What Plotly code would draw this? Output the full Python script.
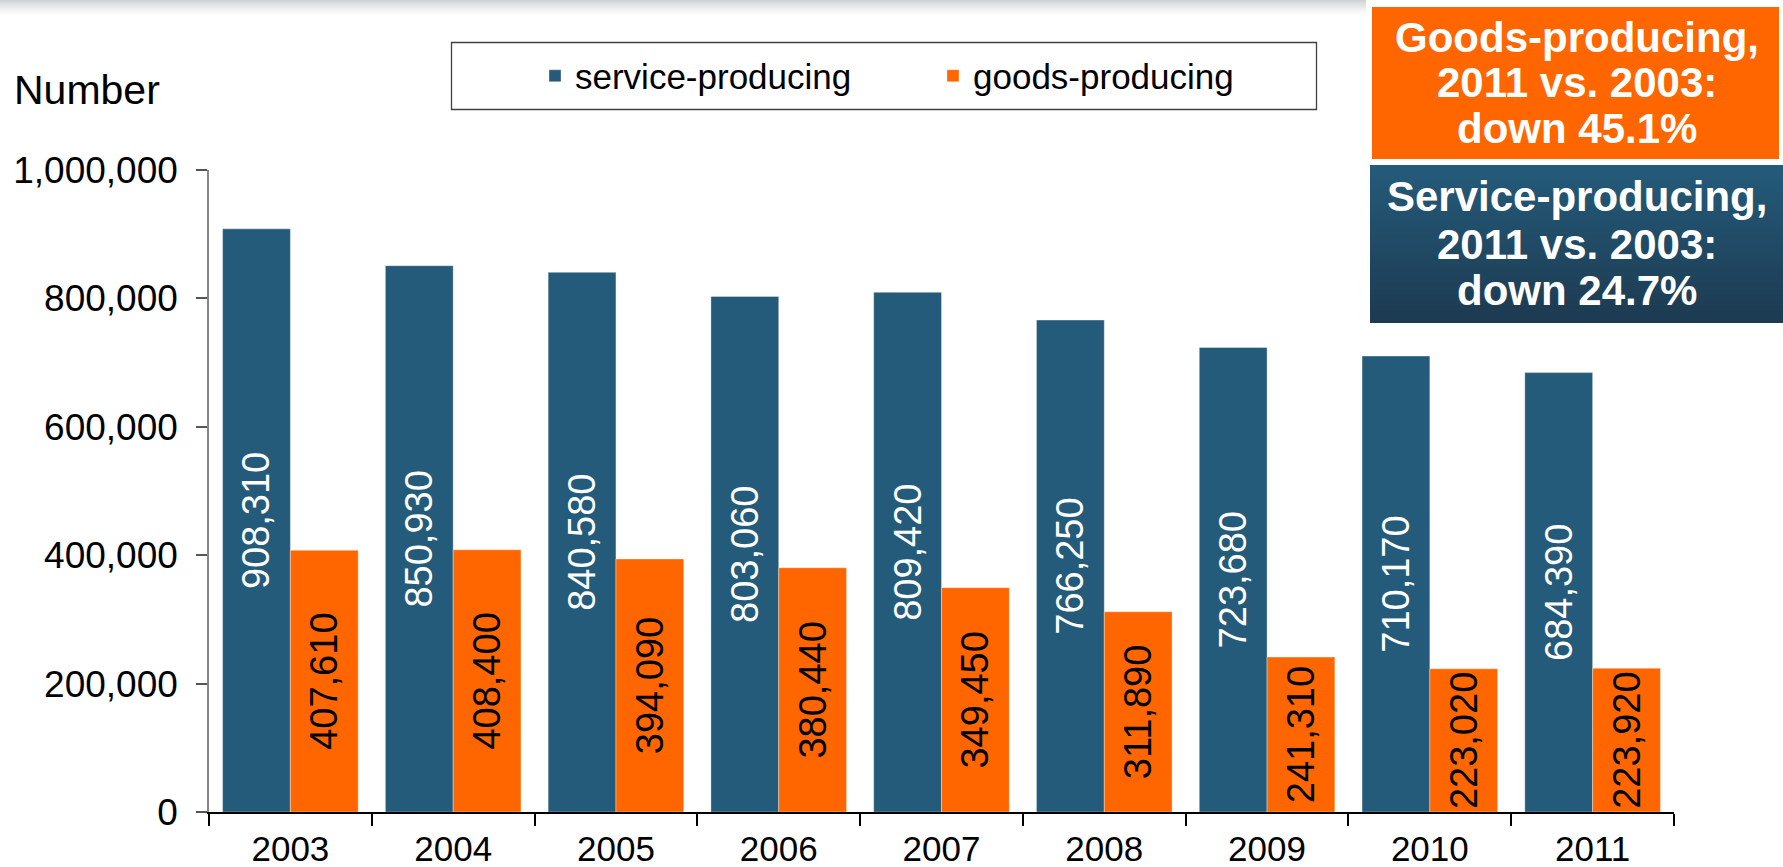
import plotly.graph_objects as go

# Data
years = ["2003", "2004", "2005", "2006", "2007", "2008", "2009", "2010", "2011"]
service_producing = [908310, 850930, 840580, 803060, 809420, 766250, 723680, 710170, 684390]
goods_producing = [407610, 408400, 394090, 380440, 349450, 311890, 241310, 223020, 223920]
y_ticks = [0, 200000, 400000, 600000, 800000, 1000000]

BLUE = "#245B7A"
ORANGE = "#FF6600"
FONT = "Arial, Liberation Sans, sans-serif"

W, H = 1783, 867
L, R, T, B = 209, 1674, 170, 812  # plot area in pixels


def fx(px):
    return (px - L) / (R - L)


def fy(py):
    return (B - py) / (B - T)


fig = go.Figure()
fig.add_trace(go.Bar(
    x=years, y=service_producing, name="service-producing",
    marker=dict(color=BLUE, line=dict(color="rgba(255,255,255,0.35)", width=1)),
    texttemplate="%{y:,}", textposition="inside", insidetextanchor="middle",
    textangle=-90, constraintext="none",
    textfont=dict(color="white", size=38, family=FONT),
    legend="legend", showlegend=True,
))
fig.add_trace(go.Bar(
    x=years, y=goods_producing, name="goods-producing",
    marker=dict(color=ORANGE, line=dict(color="rgba(255,255,255,0.35)", width=1)),
    texttemplate="%{y:,}", textposition="inside", insidetextanchor="middle",
    textangle=-90, constraintext="none",
    textfont=dict(color="black", size=38, family=FONT),
    legend="legend2", showlegend=True,
))

shapes = []
# soft grey band along the top edge
for i in range(17):
    a = 0.7 * (1 - i / 17) ** 1.6
    shapes.append(dict(type="rect", xref="paper", yref="paper",
                       x0=fx(0), x1=fx(W), y0=fy(i), y1=fy(i + 1),
                       fillcolor=f"rgba(185,192,192,{a:.3f})", line_width=0, layer="above"))
# white panel behind the callout boxes
shapes.append(dict(type="rect", xref="paper", yref="paper",
                   x0=fx(1366), x1=fx(W), y0=fy(0), y1=fy(330),
                   fillcolor="white", line_width=0, layer="above"))
# orange callout
shapes.append(dict(type="rect", xref="paper", yref="paper",
                   x0=fx(1372), x1=fx(1779), y0=fy(7), y1=fy(159),
                   fillcolor=ORANGE, line_width=0, layer="above"))
# blue callout with vertical gradient (each band runs to the bottom, later bands overdraw)
top_c = (36, 91, 122)
bot_c = (29, 58, 80)
y_top, y_bot = 165, 323
n = y_bot - y_top
for i in range(n):
    t = i / (n - 1)
    c = tuple(round(top_c[k] + (bot_c[k] - top_c[k]) * t) for k in range(3))
    shapes.append(dict(type="rect", xref="paper", yref="paper",
                       x0=fx(1370), x1=fx(W), y0=fy(y_top + i), y1=fy(y_bot),
                       fillcolor=f"rgb{c}", line_width=0, layer="above"))
# legend frame
shapes.append(dict(type="rect", xref="paper", yref="paper",
                   x0=fx(451.5), x1=fx(1316.5), y0=fy(42.5), y1=fy(109.5),
                   fillcolor="rgba(0,0,0,0)", line=dict(color="#404040", width=1.3),
                   layer="above"))

annotations = [
    dict(text="Number", x=fx(12), y=fy(90), xref="paper", yref="paper",
         xanchor="left", yanchor="middle", showarrow=False,
         font=dict(size=41, color="black", family=FONT)),
]
callout_lines = [
    ("Goods-producing,", 37), ("2011 vs. 2003:", 83), ("down 45.1%", 128),
    ("Service-producing,", 197), ("2011 vs. 2003:", 244), ("down 24.7%", 290),
]
for txt, yc in callout_lines:
    annotations.append(dict(text=f"<b>{txt}</b>", x=fx(1577), y=fy(yc),
                            xref="paper", yref="paper", xanchor="center", yanchor="middle",
                            showarrow=False,
                            font=dict(size=42, color="white", family=FONT)))

fig.update_layout(
    width=W, height=H,
    margin=dict(l=L, r=W - R, t=T, b=H - B, pad=0, autoexpand=False),
    paper_bgcolor="white", plot_bgcolor="white",
    barmode="group", bargap=0.167, bargroupgap=0,
    showlegend=True,
    font=dict(family=FONT, color="black", size=35),
    shapes=shapes, annotations=annotations,
    legend=dict(x=fx(535), y=fy(76), xanchor="left", yanchor="middle",
                bgcolor="rgba(0,0,0,0)", borderwidth=0,
                font=dict(size=35, family=FONT, color="black")),
    legend2=dict(x=fx(933), y=fy(76), xanchor="left", yanchor="middle",
                 bgcolor="rgba(0,0,0,0)", borderwidth=0,
                 font=dict(size=35, family=FONT, color="black")),
    xaxis=dict(type="category", showline=True, linecolor="black", linewidth=2,
               ticks="outside", tickson="boundaries", ticklen=12, tickwidth=2,
               tickcolor="black", showgrid=False, ticklabelstandoff=5,
               automargin=False,
               tickfont=dict(size=35, family=FONT, color="black")),
    yaxis=dict(range=[0, 1000000], tickvals=y_ticks, tickformat=",",
               showline=True, linecolor="#868686", linewidth=1.5,
               ticks="outside", ticklen=11, tickwidth=1.5, tickcolor="#555555",
               showgrid=False, zeroline=False, ticklabelstandoff=11,
               automargin=False,
               tickfont=dict(size=37, family=FONT, color="black")),
)

fig.write_html("out.html")
